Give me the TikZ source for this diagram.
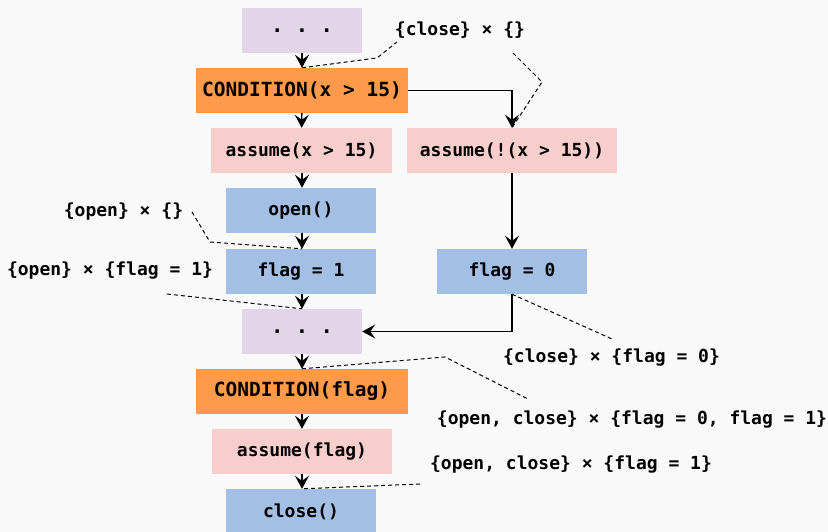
\documentclass[tikz,border=0pt]{standalone}
\usepackage{fontspec}
\setmonofont{DejaVu Sans Mono}
\usetikzlibrary{arrows.meta}
\definecolor{bgc}{HTML}{F9F9F9}
\definecolor{lav}{HTML}{E1D5E7}
\definecolor{org}{HTML}{FF9A4A}
\definecolor{pnk}{HTML}{F8CECC}
\definecolor{blu}{HTML}{A4BFE4}
\tikzset{
  box/.style={draw=none, minimum height=45pt, inner sep=0pt, font=\ttfamily\bfseries\fontsize{18}{21}\selectfont},
  lavbox/.style={box, fill=lav, minimum width=120pt, font=\ttfamily\bfseries\fontsize{20.5}{24}\selectfont},
  condbox/.style={box, fill=org, minimum width=212pt, font=\ttfamily\bfseries\fontsize{19.5}{23}\selectfont},
  pinkbox/.style={box, fill=pnk},
  bluebox/.style={box, fill=blu, minimum width=150pt},
  lbl/.style={inner sep=0pt, font=\ttfamily\bfseries\fontsize{18}{21}\selectfont},
  arr/.style={-{Stealth[length=13pt,width=14pt,inset=5pt]}, line width=1.4pt},
  lead/.style={dash pattern=on 4pt off 3pt, line width=1pt}
}
\begin{document}
\begin{tikzpicture}[x=1pt,y=-1pt]
\fill[bgc] (0,0) rectangle (828,532);
\useasboundingbox (0,0) rectangle (828,532);
% main column
\node[lavbox] (d1) at (302,30.5) {. . .};
\node[condbox] (c1) at (302,90.5) {CONDITION(x > 15)};
\node[pinkbox, minimum width=181pt] (a1) at (301.5,150.5) {assume(x > 15)};
\node[pinkbox, minimum width=210pt] (a2) at (512,150.5) {assume(!(x > 15))};
\node[bluebox] (op) at (301,210.5) {open()};
\node[bluebox] (f1) at (301,271.5) {flag = 1};
\node[bluebox] (f0) at (512,271.5) {flag = 0};
\node[lavbox] (d2) at (302,331.5) {. . .};
\node[condbox] (c2) at (302,391.5) {CONDITION(flag)};
\node[pinkbox, minimum width=180pt] (a3) at (302,451.5) {assume(flag)};
\node[bluebox] (cl) at (301,511.5) {close()};
% arrows
\draw[arr] (d1) -- (c1);
\draw[arr] (c1) -- (a1);
\draw[arr] (a1.south -| 302,0) -- (op.north -| 302,0);
\draw[arr] (op.south -| 302,0) -- (f1.north -| 302,0);
\draw[arr] (f1.south -| 302,0) -- (d2.north -| 302,0);
\draw[arr] (d2) -- (c2);
\draw[arr] (c2) -- (a3);
\draw[arr] (a3.south -| 302,0) -- (cl.north -| 302,0);
\draw[arr] (c1.east) -| (a2.north);
\draw[arr] (a2) -- (f0);
\draw[arr] (f0.south) |- (d2.east);
% labels
\node[lbl] (L1) at (460,30) {\{close\} × \{\}};
\node[lbl] (L2) at (123.5,212) {\{open\} × \{\}};
\node[lbl] (L3) at (110,271) {\{open\} × \{flag = 1\}};
\node[lbl] (L4) at (611.5,358) {\{close\} × \{flag = 0\}};
\node[lbl] (L5) at (632,420) {\{open, close\} × \{flag = 0, flag = 1\}};
\node[lbl] (L6) at (571,465) {\{open, close\} × \{flag = 1\}};
% leader coordinates
\coordinate (p1a) at (397,42);
\coordinate (p1b) at (377,58);
\coordinate (p1c) at (513,53);
\coordinate (p1d) at (542,82);
\coordinate (p2a) at (192,212);
\coordinate (p2b) at (210,242);
\coordinate (p3a) at (167,294);
\coordinate (p4a) at (612,339);
\coordinate (p5a) at (445,357);
\coordinate (p5b) at (528,399);
\coordinate (p6a) at (420,484);
% leaders
\draw[lead] (c1.north) -- (p1b) -- (p1a);
\draw[lead] (p1c) -- (p1d) -- (a2.north);
\draw[lead] (p2a) -- (p2b) -- (f1.north -| 302,0);
\draw[lead] (p3a) -- (d2.north);
\draw[lead] (f0.south) -- (p4a);
\draw[lead] (c2.north) -- (p5a) -- (p5b);
\draw[lead] (p6a) -- (cl.north -| 302,0);
\end{tikzpicture}
\end{document}
